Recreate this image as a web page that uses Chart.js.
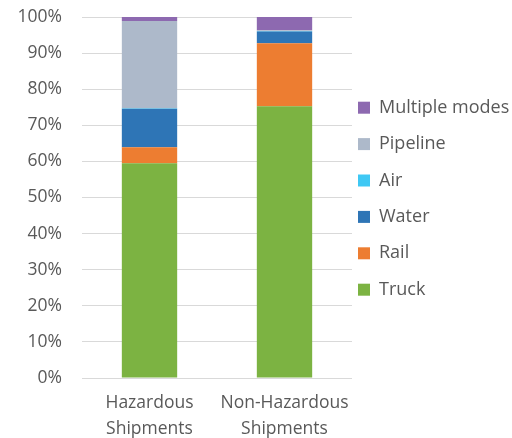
<!DOCTYPE html>
<html>
<head>
<meta charset="utf-8">
<script src="https://cdn.jsdelivr.net/npm/chart.js@4/dist/chart.umd.min.js"></script>
<style>
  body { margin: 0; background: #fff; }
  #wrap { width: 512px; height: 438px; }
</style>
</head>
<body>
<div id="wrap"><canvas id="myChart"></canvas></div>
<script>
const categories = [['Hazardous', 'Shipments'], ['Non-Hazardous', 'Shipments']];
const truck = [59.5, 75.3];
const rail = [4.4, 17.4];
const water = [10.7, 3.3];
const air = [0.1, 0.1];
const pipeline = [24.2, 0.2];
const multipleModes = [1.1, 3.7];
const yTicks = [0, 10, 20, 30, 40, 50, 60, 70, 80, 90, 100];

const grey = '#595959';
const font = 'Open Sans';

const ctx = document.getElementById('myChart');

new Chart(ctx, {
  type: 'bar',
  data: {
    labels: categories,
    datasets: [
      { label: 'Truck', data: truck, backgroundColor: '#7cb342' },
      { label: 'Rail', data: rail, backgroundColor: '#ed7d31' },
      { label: 'Water', data: water, backgroundColor: '#2e75b6' },
      { label: 'Air', data: air, backgroundColor: '#3fc8f4' },
      { label: 'Pipeline', data: pipeline, backgroundColor: '#adb9ca' },
      { label: 'Multiple modes', data: multipleModes, backgroundColor: '#8d69b0' }
    ]
  },
  options: {
    responsive: true,
    maintainAspectRatio: false,
    animation: false,
    barPercentage: 0.41,
    categoryPercentage: 1,
    layout: { padding: { top: 17, left: 0, right: 0, bottom: 0 } },
    plugins: {
      tooltip: { enabled: false },
      legend: {
        position: 'right',
        align: 'start',
        reverse: true,
        maxWidth: 160,
        title: { display: true, text: '', padding: { top: 61.3, bottom: 0 } },
        labels: {
          boxWidth: 12,
          boxHeight: 12,
          padding: 6,
          color: grey,
          font: { family: font, size: 18, lineHeight: '30.4px' },
          // array text so each row takes the font line height
          generateLabels: (chart) =>
            Chart.defaults.plugins.legend.labels.generateLabels(chart).map(l => ({ ...l, text: [l.text] }))
        }
      }
    },
    scales: {
      x: {
        stacked: true,
        grid: { display: false, drawTicks: false },
        border: { display: false },
        ticks: { color: grey, padding: 12, font: { family: font, size: 17.5, lineHeight: '26px' } },
        afterFit: (scale) => { scale.height = 60; }
      },
      y: {
        stacked: true,
        min: 0,
        max: 100,
        grid: { color: '#d9d9d9', drawTicks: false },
        border: { display: false },
        afterBuildTicks: (scale) => { scale.ticks = yTicks.map(v => ({ value: v })); },
        ticks: {
          color: grey,
          padding: 20,
          font: { family: font, size: 17.5 },
          callback: (v) => v + '%'
        },
        afterFit: (scale) => {
          scale.width = 82;
          scale.paddingTop = 0;
          scale.paddingBottom = 0;
        }
      }
    }
  }
});
</script>
</body>
</html>
